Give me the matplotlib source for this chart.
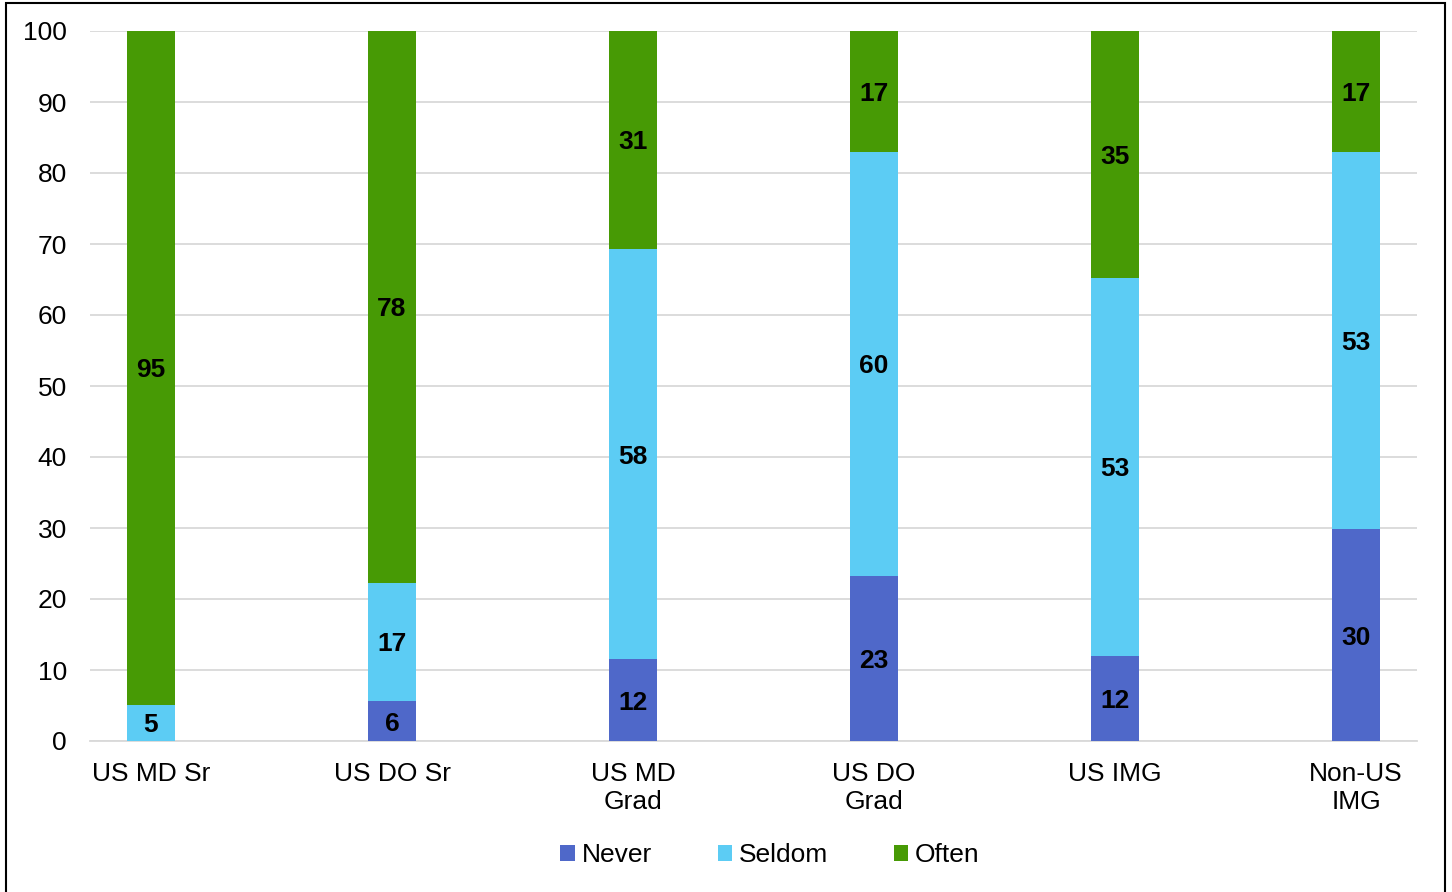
import matplotlib
matplotlib.use("Agg")
import matplotlib.pyplot as plt
from matplotlib.patches import Rectangle

categories = ["US MD Sr", "US DO Sr", "US MD\nGrad", "US DO\nGrad", "US IMG", "Non-US\nIMG"]
never = [0.0, 5.6, 11.5, 23.3, 12.0, 29.8]
seldom = [5.1, 16.7, 57.8, 59.7, 53.2, 53.2]
often = [94.9, 77.7, 30.7, 17.0, 34.8, 17.0]
never_lbl = [None, 6, 12, 23, 12, 30]
seldom_lbl = [5, 17, 58, 60, 53, 53]
often_lbl = [95, 78, 31, 17, 35, 17]
yticks = list(range(0, 101, 10))

plt.rcParams['font.family'] = ['Liberation Sans', 'DejaVu Sans']
FS = 19

fig = plt.figure(figsize=(14.52, 8.92), dpi=100)
ax = fig.add_axes([90/1452, 1-741/892, (1417-90)/1452, (741-31)/892])

c_never, c_seldom, c_often = "#4F68C9", "#5CCCF4", "#479A05"
x = list(range(len(categories)))
w = 0.2
b1 = ax.bar(x, never, w, color=c_never, label="Never", zorder=3)
b2 = ax.bar(x, seldom, w, bottom=never, color=c_seldom, label="Seldom", zorder=3)
bot3 = [a + b for a, b in zip(never, seldom)]
b3 = ax.bar(x, often, w, bottom=bot3, color=c_often, label="Often", zorder=3)

kw = dict(ha="center", va="center_baseline", fontsize=FS, fontweight="bold", zorder=4)
for i in x:
    if never_lbl[i] is not None:
        ax.text(i, never[i] / 2, str(never_lbl[i]), **kw)
    ax.text(i, never[i] + seldom[i] / 2, str(seldom_lbl[i]), **kw)
    ax.text(i, bot3[i] + often[i] / 2, str(often_lbl[i]), **kw)

ax.set_xlim(-61/241, 5 + 61/241)
ax.set_ylim(0, 100)
ax.set_yticks(yticks)
ax.set_xticks(x)
ax.set_xticklabels(categories, fontsize=FS, linespacing=1.2)
ax.tick_params(axis="y", labelsize=FS, length=0, pad=16.5)
ax.tick_params(axis="x", length=0, pad=15)
ax.grid(axis="y", color="#D9D9D9", linewidth=1.3, zorder=0)
for s in ["top", "right", "left"]:
    ax.spines[s].set_visible(False)
ax.spines["bottom"].set_color("#D9D9D9")
ax.spines["bottom"].set_linewidth(1.3)

leg = fig.legend(handles=[b1, b2, b3], labels=["Never", "Seldom", "Often"], loc="center",
                 bbox_to_anchor=(770/1452, 1-855/892), ncol=3, frameon=False, fontsize=FS,
                 handlelength=0.55, handleheight=0.55, handletextpad=0.25, columnspacing=2.5)

fig.patches.append(Rectangle((6/1452, -0.05), (1445-6)/1452, 1.05 - 3/892, transform=fig.transFigure,
                             fill=False, edgecolor="black", linewidth=1.5))

fig.savefig("out.png", dpi=100)
